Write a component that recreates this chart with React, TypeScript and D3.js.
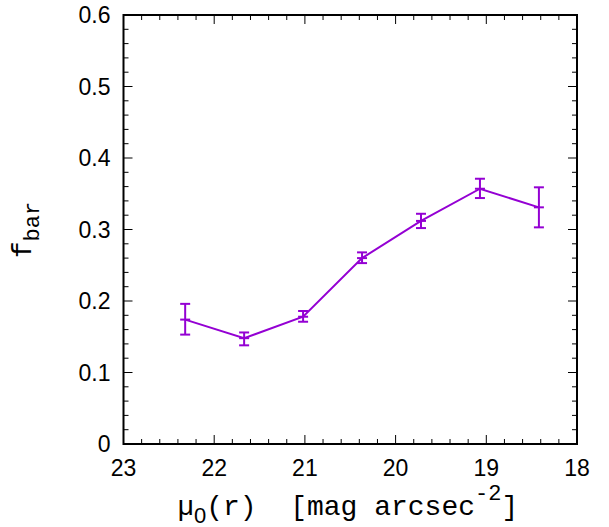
import React from "react";
import * as d3 from "d3";

const xValues = [22.32, 21.67, 21.02, 20.37, 19.72, 19.07, 18.42];
const yValues = [0.174, 0.148, 0.178, 0.260, 0.312, 0.357, 0.331];
const yErrLow = [0.153, 0.138, 0.171, 0.253, 0.302, 0.344, 0.303];
const yErrHigh = [0.196, 0.156, 0.186, 0.268, 0.322, 0.371, 0.359];
const xTicks = [23, 22, 21, 20, 19, 18];
const yTicks = [0, 0.1, 0.2, 0.3, 0.4, 0.5, 0.6];

const W = 609, H = 527;
const L = 123.5, R = 577, T = 15, B = 444;
const color = "#9400D3";
const mono = "Liberation Mono, Courier New, monospace";
const sans = "Liberation Sans, Arial, sans-serif";

export default function App() {
  const x = d3.scaleLinear().domain([23, 18]).range([L, R]);
  const y = d3.scaleLinear().domain([0, 0.6]).range([B, T]);
  const line = d3.line<number>().x((_, i) => x(xValues[i])).y((d) => y(d));
  const xMinor = d3.range(0, 26).map((i) => 23 - i * 0.2).filter((v) => Math.abs(v - Math.round(v)) > 1e-6);
  const yMinor = d3.range(0, 31).map((i) => i * 0.02).filter((v) => Math.abs(v * 10 - Math.round(v * 10)) > 1e-6);
  const major = 9, minor = 5;
  const cap = 5;
  return (
    <svg width={W} height={H} style={{ position: "absolute", left: 0, top: 0 }}>
      <rect width={W} height={H} fill="#fff" />
      <g stroke="#000" strokeWidth={1}>
        {xTicks.map((v) => (
          <g key={"xt" + v}>
            <line x1={x(v)} x2={x(v)} y1={B} y2={B - major} />
            <line x1={x(v)} x2={x(v)} y1={T} y2={T + major} />
          </g>
        ))}
        {xMinor.map((v) => (
          <g key={"xm" + v}>
            <line x1={x(v)} x2={x(v)} y1={B} y2={B - minor} />
            <line x1={x(v)} x2={x(v)} y1={T} y2={T + minor} />
          </g>
        ))}
        {yTicks.map((v) => (
          <g key={"yt" + v}>
            <line x1={L} x2={L + major} y1={y(v)} y2={y(v)} />
            <line x1={R} x2={R - major} y1={y(v)} y2={y(v)} />
          </g>
        ))}
        {yMinor.map((v) => (
          <g key={"ym" + v}>
            <line x1={L} x2={L + minor} y1={y(v)} y2={y(v)} />
            <line x1={R} x2={R - minor} y1={y(v)} y2={y(v)} />
          </g>
        ))}
      </g>
      <rect x={L} y={T} width={R - L} height={B - T} fill="none" stroke="#000" strokeWidth={2} />
      <g fontFamily={sans} fontSize={23} fill="#000">
        {xTicks.map((v) => (
          <text key={"xl" + v} x={x(v)} y={B + 32} textAnchor="middle">{v}</text>
        ))}
        {yTicks.map((v) => (
          <text key={"yl" + v} x={L - 13} y={y(v) + 8} textAnchor="end">{v === 0 ? "0" : v.toFixed(1)}</text>
        ))}
      </g>
      <path d={line(yValues) || ""} fill="none" stroke={color} strokeWidth={2} />
      <g stroke={color} strokeWidth={2}>
        {xValues.map((xv, i) => (
          <g key={"e" + i}>
            <line x1={x(xv)} x2={x(xv)} y1={y(yErrLow[i])} y2={y(yErrHigh[i])} />
            <line x1={x(xv) - cap} x2={x(xv) + cap} y1={y(yErrLow[i])} y2={y(yErrLow[i])} />
            <line x1={x(xv) - cap} x2={x(xv) + cap} y1={y(yErrHigh[i])} y2={y(yErrHigh[i])} />
            <line x1={x(xv) - cap} x2={x(xv) + cap} y1={y(yValues[i])} y2={y(yValues[i])} />
          </g>
        ))}
      </g>
      <text x={348} y={515} textAnchor="middle" fontFamily={mono} fontSize={28} fill="#000" xmlSpace="preserve">
        <tspan fontFamily={sans}>μ</tspan>
        <tspan dy={8} fontSize={22} fontFamily={sans}>0</tspan>
        <tspan dy={-8}>(r)  [mag arcsec</tspan>
        <tspan dy={-15} fontSize={22}>-2</tspan>
        <tspan dy={15}>]</tspan>
      </text>
      <text transform="translate(31,230) rotate(-90)" textAnchor="middle" fontFamily={mono} fontSize={28} fill="#000">
        <tspan>f</tspan>
        <tspan dy={8} fontSize={22}>bar</tspan>
      </text>
    </svg>
  );
}
